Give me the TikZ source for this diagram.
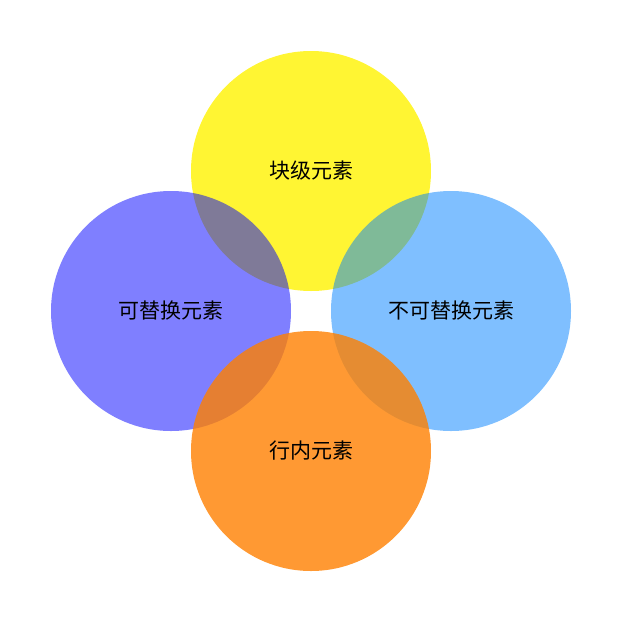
\documentclass[tikz,border=0pt]{standalone}
\usepackage{fontspec}
\newfontfamily\cjk{Noto Sans CJK SC}
\definecolor{cR}{RGB}{0,128,255}
\definecolor{cB}{RGB}{255,128,0}
\begin{document}
\begin{tikzpicture}[x=1pt,y=-1pt,
  lab/.style={font=\cjk\fontsize{21}{24}\selectfont, text=black}]
\useasboundingbox (0,0) rectangle (622,622);
\fill[yellow, fill opacity=0.8] (311,171) circle (120);
\fill[blue, fill opacity=0.5] (171,311) circle (120);
\fill[cR, fill opacity=0.5] (451,311) circle (120);
\fill[cB, fill opacity=0.8] (311,451) circle (120);
\node[lab] (t) at (311,171) {块级元素};
\node[lab] (l) at (171,311) {可替换元素};
\node[lab] (r) at (451,311) {不可替换元素};
\node[lab] (b) at (311,451) {行内元素};
\end{tikzpicture}
\end{document}
